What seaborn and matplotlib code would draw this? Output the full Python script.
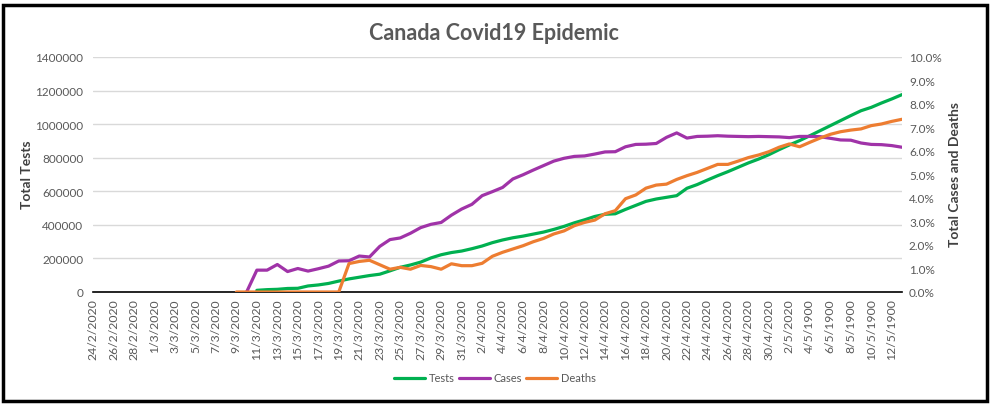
import numpy as np
import pandas as pd
import matplotlib
matplotlib.use('Agg')
import matplotlib.pyplot as plt
import seaborn as sns
from matplotlib.patches import Rectangle
from matplotlib.ticker import FuncFormatter

nan = np.nan

# categorias: 24/2/2020 .. 13/5 (o Excel trocou o ano para 1900 no fim)
dates = pd.date_range('2020-02-24', '2020-05-13')
date_labels = [f"{d.day}/{d.month}/{'2020' if d <= pd.Timestamp('2020-05-02') else '1900'}"
               for d in dates]

# total de testes (eixo esquerdo)
tests = [nan] * 16 + [
    10000, 14000, 16000, 21000, 22000, 36000, 42000, 51000, 65000, 78000,
    88000, 98000, 106000, 126000, 147000, 161000, 178000, 203000, 222000, 235000,
    244000, 258000, 274000, 294000, 310000, 323000, 333000, 345000, 357000, 373000,
    391000, 412000, 430000, 450000, 463000, 466000, 492000, 516000, 540000, 554000,
    564000, 574000, 618000, 640000, 667000, 693000, 717000, 743000, 769000, 792000,
    818000, 848000, 876000, 902000, 931000, 961000, 991000, 1021000, 1051000, 1080000,
    1100000, 1126000, 1150000, 1176000]

# casos e mortes em % (eixo direito)
cases = [nan] * 15 + [
    0.0, 0.93, 0.93, 1.17, 0.87, 1.00, 0.89, 0.99, 1.10, 1.32,
    1.33, 1.53, 1.49, 1.94, 2.23, 2.30, 2.50, 2.74, 2.88, 2.96,
    3.27, 3.53, 3.73, 4.10, 4.27, 4.45, 4.81, 4.99, 5.19, 5.38,
    5.57, 5.69, 5.77, 5.79, 5.87, 5.96, 5.97, 6.18, 6.28, 6.29,
    6.32, 6.58, 6.77, 6.55, 6.62, 6.63, 6.65, 6.63, 6.62, 6.61,
    6.62, 6.61, 6.60, 6.57, 6.62, 6.62, 6.61, 6.54, 6.47, 6.46,
    6.34, 6.28, 6.27, 6.23, 6.16]

deaths = [nan] * 14 + [
    0.0, 0.0, 0.0, 0.0, 0.0, 0.0, 0.0, 0.0, 0.0, 0.0, 0.0,
    1.21, 1.30, 1.35, 1.16, 0.97, 1.05, 0.97, 1.13, 1.08, 0.97,
    1.20, 1.12, 1.12, 1.22, 1.52, 1.69, 1.83, 1.97, 2.14, 2.28,
    2.47, 2.60, 2.82, 2.96, 3.06, 3.33, 3.46, 3.97, 4.13, 4.42,
    4.55, 4.59, 4.79, 4.95, 5.09, 5.26, 5.43, 5.43, 5.57, 5.72,
    5.83, 5.97, 6.16, 6.30, 6.18, 6.37, 6.55, 6.71, 6.82, 6.89,
    6.94, 7.08, 7.15, 7.26, 7.35]

df = pd.DataFrame({'idx': np.arange(len(dates)), 'Tests': tests,
                   'Cases': cases, 'Deaths': deaths})

sns.set_style('white')
plt.rcParams['font.family'] = ['Lato', 'DejaVu Sans']

GRAY = '#595959'
GREEN = '#00B050'
PURPLE = '#A033A8'
ORANGE = '#ED7D31'

fig = plt.figure(figsize=(9.9, 4.06), dpi=100)
ax = fig.add_axes([93 / 990, 1 - 293 / 406, (902 - 93) / 990, (293 - 58) / 406])
ax2 = ax.twinx()

sns.lineplot(data=df, x='idx', y='Tests', ax=ax, color=GREEN, lw=2.3, label='Tests', legend=False)
sns.lineplot(data=df, x='idx', y='Cases', ax=ax2, color=PURPLE, lw=2.3, label='Cases', legend=False)
sns.lineplot(data=df, x='idx', y='Deaths', ax=ax2, color=ORANGE, lw=2.3, label='Deaths', legend=False)

ax.set_xlim(0, len(dates) - 1)
ax.set_ylim(0, 1400000)
ax.set_yticks(range(0, 1400001, 200000))
ax.yaxis.set_major_formatter(FuncFormatter(lambda v, p: f"{int(v)}"))
ax2.set_ylim(0, 10)
ax2.set_yticks(range(0, 11))
ax2.yaxis.set_major_formatter(FuncFormatter(lambda v, p: f"{v:.1f}%"))

ax.set_xticks(df['idx'])
ax.set_xticklabels([lab if i % 2 == 0 else '' for i, lab in enumerate(date_labels)])
ax.tick_params(axis='x', direction='inout', length=7, width=1, color='black',
               labelsize=8.8, labelcolor=GRAY, rotation=90, pad=1)
ax.tick_params(axis='y', length=0, labelsize=8.5, labelcolor=GRAY, pad=7)
ax2.tick_params(axis='y', length=0, labelsize=8.5, labelcolor=GRAY, pad=5)

ax.grid(axis='y', color='#D9D9D9', lw=1)
ax.grid(axis='x', visible=False)
for s in ['left', 'right', 'top']:
    ax.spines[s].set_visible(False)
    ax2.spines[s].set_visible(False)
ax2.spines['bottom'].set_visible(False)
ax.spines['bottom'].set_color('black')
ax.spines['bottom'].set_linewidth(1.2)

ax.set_xlabel('')
ax.set_ylabel('')
ax2.set_ylabel('')
fig.text(27 / 990, 1 - 175 / 406, 'Total Tests', rotation=90, ha='center', va='center',
         fontsize=10, fontweight='bold', color='#404040')
fig.text(955 / 990, 1 - 175 / 406, 'Total Cases and Deaths', rotation=90, ha='center',
         va='center', fontsize=10, fontweight='bold', color='#404040')
fig.text(494 / 990, 1 - 33 / 406, 'Canada Covid19 Epidemic', ha='center', va='center',
         fontsize=15.5, fontweight='bold', color=GRAY)

h1, l1 = ax.get_legend_handles_labels()
h2, l2 = ax2.get_legend_handles_labels()
fig.legend(h1 + h2, l1 + l2, loc='center', bbox_to_anchor=(495 / 990, 1 - 379 / 406),
           ncol=3, frameon=False, fontsize=8, handlelength=2.8, columnspacing=0.4,
           handletextpad=0.3, labelcolor=GRAY)

# moldura preta em volta do gráfico
fig.patches.append(Rectangle((3 / 990, 4 / 406), 984 / 990, 396 / 406, transform=fig.transFigure,
                             fill=False, edgecolor='black', lw=2.5))

plt.savefig('out.png', dpi=100)
